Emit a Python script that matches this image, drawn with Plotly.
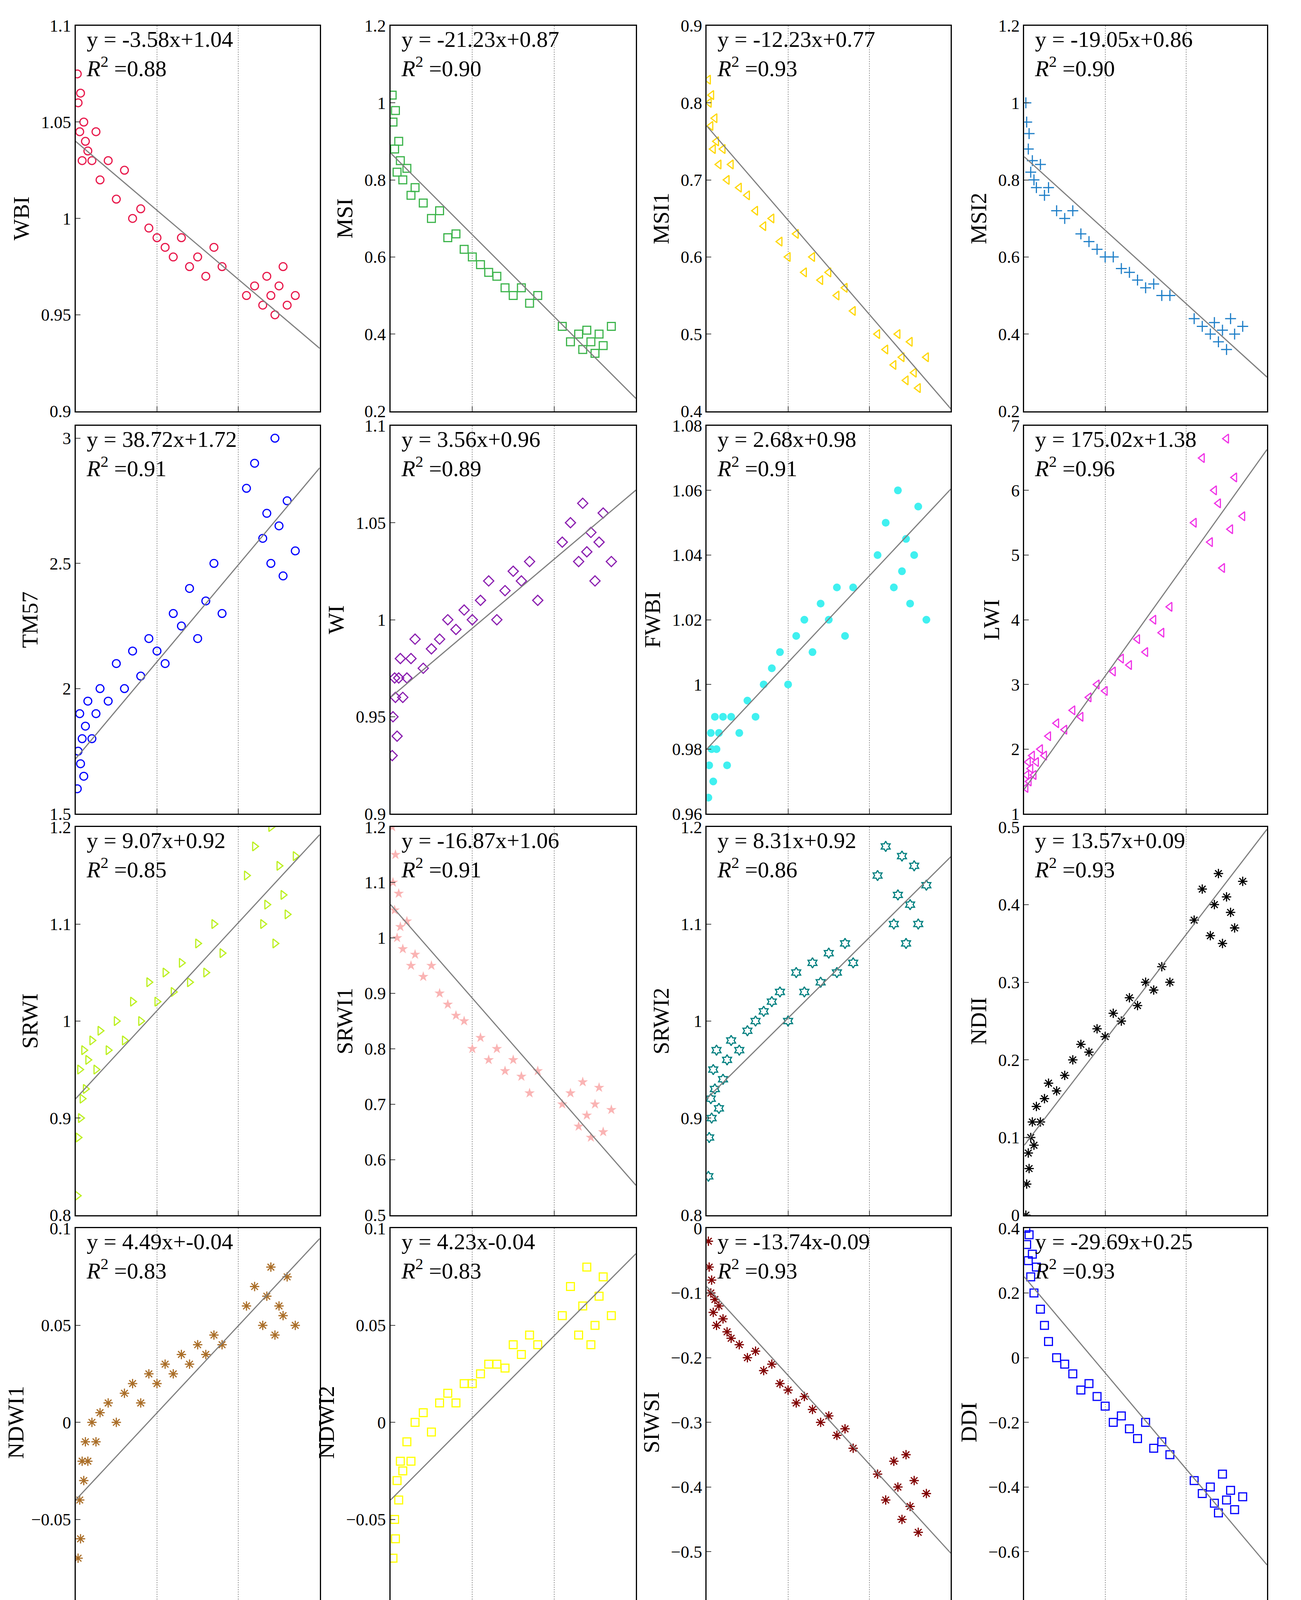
import plotly.graph_objects as go
from plotly.subplots import make_subplots

EWT = [0.0002,0.0003,0.0005,0.0006,0.0008,0.001,0.0012,0.0015,0.002,0.0025,0.003,0.004,0.005,0.006,0.007,0.008,0.009,0.010,0.011,0.012,0.013,0.014,0.015,0.016,0.017,0.018,0.021,0.022,0.023,0.0235,0.024,0.0245,0.025,0.0255,0.026,0.027]

WBI = [1.075,1.06,1.045,1.065,1.03,1.05,1.04,1.035,1.03,1.045,1.02,1.03,1.01,1.025,1.0,1.005,0.995,0.99,0.985,0.98,0.99,0.975,0.98,0.97,0.985,0.975,0.96,0.965,0.955,0.97,0.96,0.95,0.965,0.975,0.955,0.96]
MSI = [1.02,0.95,0.88,0.98,0.82,0.9,0.85,0.8,0.83,0.76,0.78,0.74,0.7,0.72,0.65,0.66,0.62,0.6,0.58,0.56,0.55,0.52,0.5,0.52,0.48,0.5,0.42,0.38,0.4,0.36,0.41,0.38,0.35,0.4,0.37,0.42]
MSI1 = [0.83,0.8,0.77,0.81,0.74,0.78,0.75,0.72,0.74,0.7,0.72,0.69,0.68,0.66,0.64,0.65,0.62,0.6,0.63,0.58,0.6,0.57,0.58,0.55,0.56,0.53,0.5,0.48,0.46,0.5,0.47,0.44,0.49,0.45,0.43,0.47]
MSI2 = [1.0,0.95,0.88,0.92,0.82,0.85,0.8,0.78,0.84,0.76,0.78,0.72,0.7,0.72,0.66,0.64,0.62,0.6,0.6,0.57,0.56,0.54,0.52,0.53,0.5,0.5,0.44,0.42,0.4,0.43,0.38,0.41,0.36,0.44,0.4,0.42]
TM57 = [1.6,1.75,1.9,1.7,1.8,1.65,1.85,1.95,1.8,1.9,2.0,1.95,2.1,2.0,2.15,2.05,2.2,2.15,2.1,2.3,2.25,2.4,2.2,2.35,2.5,2.3,2.8,2.9,2.6,2.7,2.5,3.0,2.65,2.45,2.75,2.55]
WI = [0.93,0.95,0.97,0.96,0.94,0.97,0.98,0.96,0.97,0.98,0.99,0.975,0.985,0.99,1.0,0.995,1.005,1.0,1.01,1.02,1.0,1.015,1.025,1.02,1.03,1.01,1.04,1.05,1.03,1.06,1.035,1.045,1.02,1.04,1.055,1.03]
FWBI = [0.965,0.975,0.985,0.98,0.97,0.99,0.98,0.985,0.99,0.975,0.99,0.985,0.995,0.99,1.0,1.005,1.01,1.0,1.015,1.02,1.01,1.025,1.02,1.03,1.015,1.03,1.04,1.05,1.03,1.06,1.035,1.045,1.025,1.04,1.055,1.02]
LWI = [1.4,1.6,1.8,1.5,1.7,1.9,1.6,1.8,2.0,1.9,2.2,2.4,2.3,2.6,2.5,2.8,3.0,2.9,3.2,3.4,3.3,3.7,3.5,4.0,3.8,4.2,5.5,6.5,5.2,6.0,5.8,4.8,6.8,5.4,6.2,5.6]
SRWI = [0.82,0.88,0.95,0.9,0.92,0.97,0.93,0.96,0.98,0.95,0.99,0.97,1.0,0.98,1.02,1.0,1.04,1.02,1.05,1.03,1.06,1.04,1.08,1.05,1.1,1.07,1.15,1.18,1.1,1.12,1.2,1.08,1.16,1.13,1.11,1.17]
SRWI1 = [1.2,1.1,1.05,1.15,1.0,1.08,1.02,0.98,1.03,0.95,0.97,0.93,0.95,0.9,0.88,0.86,0.85,0.8,0.82,0.78,0.8,0.76,0.78,0.75,0.72,0.76,0.7,0.72,0.66,0.74,0.68,0.64,0.7,0.73,0.65,0.69]
SRWI2 = [0.84,0.88,0.92,0.9,0.95,0.93,0.97,0.91,0.94,0.96,0.98,0.97,0.99,1.0,1.01,1.02,1.03,1.0,1.05,1.03,1.06,1.04,1.07,1.05,1.08,1.06,1.15,1.18,1.1,1.13,1.17,1.08,1.12,1.16,1.1,1.14]
NDII = [0.0,0.04,0.08,0.06,0.1,0.12,0.09,0.14,0.12,0.15,0.17,0.16,0.18,0.2,0.22,0.21,0.24,0.23,0.26,0.25,0.28,0.27,0.3,0.29,0.32,0.3,0.38,0.42,0.36,0.4,0.44,0.35,0.41,0.39,0.37,0.43]
NDWI1 = [-0.1,-0.07,-0.04,-0.06,-0.02,-0.03,-0.01,-0.02,0.0,-0.01,0.005,0.01,0.0,0.015,0.02,0.01,0.025,0.02,0.03,0.025,0.035,0.03,0.04,0.035,0.045,0.04,0.06,0.07,0.05,0.065,0.08,0.045,0.06,0.055,0.075,0.05]
NDWI2 = [-0.1,-0.07,-0.05,-0.06,-0.03,-0.04,-0.02,-0.025,-0.01,-0.02,0.0,0.005,-0.005,0.01,0.015,0.01,0.02,0.02,0.025,0.03,0.03,0.028,0.04,0.035,0.045,0.04,0.055,0.07,0.045,0.06,0.08,0.04,0.05,0.065,0.075,0.055]
SIWSI = [-0.02,-0.06,-0.1,-0.08,-0.13,-0.11,-0.15,-0.12,-0.14,-0.16,-0.17,-0.18,-0.2,-0.19,-0.22,-0.21,-0.24,-0.25,-0.27,-0.26,-0.28,-0.3,-0.29,-0.32,-0.31,-0.34,-0.38,-0.42,-0.36,-0.4,-0.45,-0.35,-0.43,-0.39,-0.47,-0.41]
DDI = [0.4,0.35,0.3,0.38,0.25,0.32,0.2,0.28,0.15,0.1,0.05,0.0,-0.02,-0.05,-0.1,-0.08,-0.12,-0.15,-0.2,-0.18,-0.22,-0.25,-0.2,-0.28,-0.26,-0.3,-0.38,-0.42,-0.4,-0.45,-0.48,-0.36,-0.44,-0.41,-0.47,-0.43]
VARI = [0.02,0.1,0.18,0.25,0.06,0.22,0.15,0.28,0.2,0.12,0.24,0.2,0.03,0.23,0.25,0.21,0.26,0.24,0.22,0.27,0.25,0.23,0.26,0.24,0.28,0.22,0.3,0.26,0.32,0.24,0.28,0.2,0.3,0.27,0.22,0.25]
EVI = [0.62,0.72,0.8,0.88,0.75,0.85,0.78,0.92,0.83,0.9,0.86,0.95,0.88,0.92,0.98,0.9,0.96,1.0,0.93,0.97,1.02,0.95,1.0,0.9,1.04,0.98,1.08,0.92,1.05,1.1,0.95,1.02,0.88,1.06,0.98,0.9]

NAMES = ["WBI","MSI","MSI1","MSI2","TM57","WI","FWBI","LWI","SRWI","SRWI1","SRWI2","NDII","NDWI1","NDWI2","SIWSI","DDI","VARI","EVI"]
YDATA = [WBI,MSI,MSI1,MSI2,TM57,WI,FWBI,LWI,SRWI,SRWI1,SRWI2,NDII,NDWI1,NDWI2,SIWSI,DDI,VARI,EVI]
SLOPES = [-3.58,-21.23,-12.23,-19.05,38.72,3.56,2.68,175.02,9.07,-16.87,8.31,13.57,4.49,4.23,-13.74,-29.69,3.74,9.27]
INTERCEPTS = [1.04,0.87,0.77,0.86,1.72,0.96,0.98,1.38,0.92,1.06,0.92,0.09,-0.04,-0.04,-0.09,0.25,0.19,0.81]
EQ_TEXT = ["y = -3.58x+1.04","y = -21.23x+0.87","y = -12.23x+0.77","y = -19.05x+0.86","y = 38.72x+1.72","y = 3.56x+0.96","y = 2.68x+0.98","y = 175.02x+1.38","y = 9.07x+0.92","y = -16.87x+1.06","y = 8.31x+0.92","y = 13.57x+0.09","y = 4.49x+-0.04","y = 4.23x-0.04","y = -13.74x-0.09","y = -29.69x+0.25","y = 3.74x+0.19","y = 9.27x+0.81"]
R2 = ["0.88","0.90","0.93","0.90","0.91","0.89","0.91","0.96","0.85","0.91","0.86","0.93","0.83","0.83","0.93","0.93","0.41","0.65"]
YRANGES = [(0.9,1.1),(0.2,1.2),(0.4,0.9),(0.2,1.2),(1.5,3.05),(0.9,1.1),(0.96,1.08),(1,7),(0.8,1.2),(0.5,1.2),(0.8,1.2),(0,0.5),(-0.1,0.1),(-0.1,0.1),(-0.6,0),(-0.8,0.4),(0,0.35),(0.6,1.1)]
YDTICK = [0.05,0.2,0.1,0.2,0.5,0.05,0.02,1,0.1,0.1,0.1,0.1,0.05,0.05,0.1,0.2,0.05,0.1]
COLORS = ["#e8194b","#3cb44b","#ffd700","#1f7fc8","#0000ff","#8b1fb0","#40f0f0","#f032e6","#bcf020","#fab4b4","#008080","#000000","#aa6e28","#ffff00","#800000","#0000ff","#e8194b","#3cb44b"]
SYMBOLS = ["circle-open","square-open","triangle-left-open","cross-thin-open","circle-open","diamond-open","circle","triangle-left-open","triangle-right-open","star","hexagram-open","asterisk-open","asterisk-open","square-open","asterisk-open","square-open","asterisk-open","diamond-open"]
POS = [(1,1),(1,2),(1,3),(1,4),(2,1),(2,2),(2,3),(2,4),(3,1),(3,2),(3,3),(3,4),(4,1),(4,2),(4,3),(4,4),(5,2),(5,3)]

W, H = 3331, 5348
XD = [(52,238),(292,479),(533,719),(775,960)]
YD = [(10,302),(313,607),(617,911),(921,1215),(1224,1518)]
SX, SY = 977, 1568
FONT = "Liberation Serif"

specs = [[{}]*4 for _ in range(4)] + [[None, {}, {}, None]]
fig = make_subplots(rows=5, cols=4, specs=specs)
xlabel_panels = {(4,1),(4,4),(5,2),(5,3)}

for i, name in enumerate(NAMES):
    r, c = POS[i]
    sym = SYMBOLS[i]
    mline = 3 if "open" in sym else 0
    fig.add_trace(go.Scatter(x=EWT, y=YDATA[i], mode="markers",
        marker=dict(symbol=sym, size=20, color=COLORS[i], line=dict(width=mline, color=COLORS[i])),
        showlegend=False), row=r, col=c)
    lx = [0, 0.03]
    ly = [INTERCEPTS[i] + SLOPES[i]*v for v in lx]
    fig.add_trace(go.Scatter(x=lx, y=ly, mode="lines", line=dict(color="#808080", width=3),
        showlegend=False), row=r, col=c)
    xd = (XD[c-1][0]/SX, XD[c-1][1]/SX)
    yd = (1 - YD[r-1][1]/SY, 1 - YD[r-1][0]/SY)
    fig.update_xaxes(domain=list(xd), range=[0, 0.03], tickvals=[0,0.01,0.02,0.03],
        ticktext=["0","0.01","0.02","0.03"], showticklabels=(r,c) in xlabel_panels,
        showgrid=True, gridcolor="#999999", griddash="dot", gridwidth=2,
        zeroline=False, showline=True, linecolor="black", linewidth=3, mirror=True,
        ticks="inside", ticklen=12, tickwidth=2,
        title=dict(text="EWT (<i>gcm</i><sup>−2</sup>)" if (r,c) in xlabel_panels else "",
                   font=dict(size=58, family=FONT), standoff=10),
        tickfont=dict(size=44, family=FONT), row=r, col=c)
    fig.update_yaxes(domain=list(yd), range=list(YRANGES[i]), dtick=YDTICK[i], tick0=0,
        showgrid=False, zeroline=False, showline=True, linecolor="black", linewidth=3, mirror=True,
        ticks="inside", ticklen=12, tickwidth=2,
        title=dict(text=name, font=dict(size=58, family=FONT), standoff=12),
        tickfont=dict(size=44, family=FONT), row=r, col=c)
    idx = "" if i == 0 else str(i+1)
    fig.add_annotation(xref=f"x{idx} domain", yref=f"y{idx} domain", x=0.04, y=1.0,
        xanchor="left", yanchor="top", showarrow=False, align="left",
        text=f"{EQ_TEXT[i]}<br><i>R</i><sup>2</sup> ={R2[i]}",
        font=dict(size=58, family=FONT, color="black"))

fig.update_layout(width=W, height=H, margin=dict(l=0, r=0, t=0, b=0),
    plot_bgcolor="white", paper_bgcolor="white", font=dict(family=FONT, color="black"))
fig.write_html("out.html")
